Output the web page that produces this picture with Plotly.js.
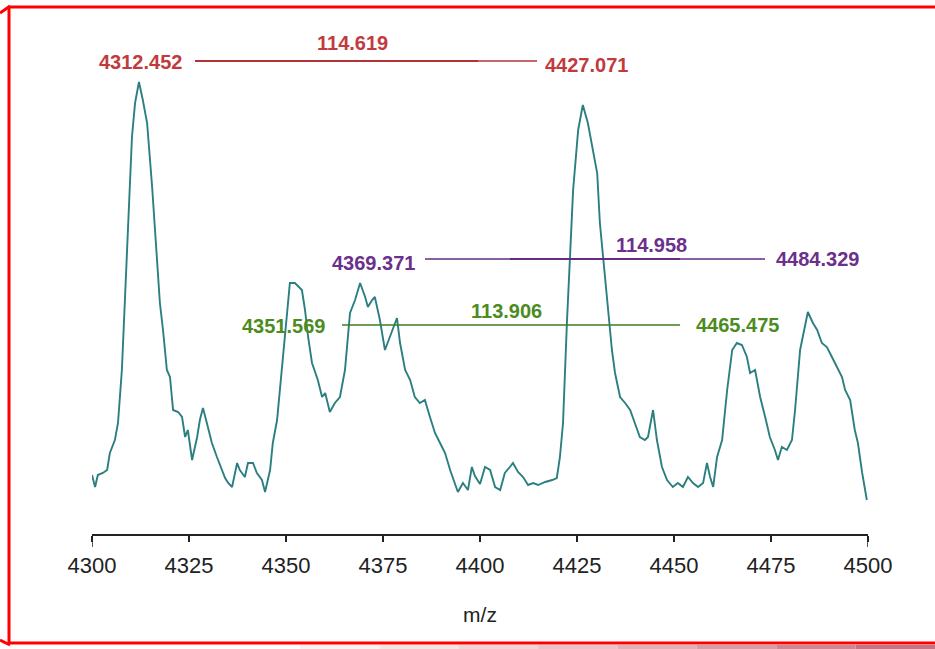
<!DOCTYPE html>
<html>
<head>
<meta charset="utf-8">
<script src="https://cdn.plot.ly/plotly-3.0.1.min.js"></script>
<style>html,body{margin:0;padding:0;background:#fff;}#chart{width:935px;height:649px;}</style>
</head>
<body>
<div id="chart"></div>
<script>
// Spectrum (m/z vs relative intensity)
const mz = [4300.0,4300.8,4301.5,4302.8,4303.9,4304.6,4305.9,4306.7,4307.7,4308.5,4309.3,4310.3,4311.1,4312.1,4313.1,4314.2,4315.5,4316.8,4317.5,4318.3,4319.3,4320.1,4320.9,4322.2,4323.2,4324.0,4324.7,4325.8,4327.1,4327.8,4328.6,4329.6,4330.9,4332.2,4333.5,4334.3,4335.1,4336.1,4337.4,4338.1,4339.4,4340.2,4341.5,4342.5,4343.8,4344.6,4345.9,4346.6,4347.7,4348.5,4349.2,4350.3,4351.0,4352.3,4354.1,4354.9,4355.7,4356.7,4357.5,4358.2,4359.3,4360.1,4361.3,4362.6,4363.9,4365.2,4366.5,4367.8,4369.1,4370.4,4371.1,4372.2,4372.9,4374.2,4375.5,4376.8,4378.6,4379.4,4380.7,4382.0,4383.2,4384.5,4385.8,4387.1,4388.4,4389.7,4391.0,4392.3,4393.6,4394.3,4395.6,4396.9,4397.9,4398.7,4400.0,4401.3,4402.6,4403.9,4405.2,4406.4,4407.7,4408.5,4409.8,4411.1,4412.4,4413.7,4415.0,4416.8,4418.6,4419.8,4420.6,4421.4,4422.4,4423.2,4424.0,4425.3,4426.5,4427.8,4429.1,4430.2,4430.9,4431.7,4432.7,4434.0,4434.8,4436.1,4437.4,4438.7,4439.9,4441.2,4442.5,4443.3,4444.6,4445.6,4446.9,4448.2,4449.7,4451.0,4452.3,4453.6,4454.9,4456.2,4457.5,4458.5,4459.3,4460.1,4461.1,4462.4,4463.7,4465.0,4466.2,4467.5,4468.8,4469.6,4470.9,4472.2,4473.5,4474.7,4476.0,4476.8,4477.8,4479.1,4480.4,4481.2,4482.5,4483.8,4484.5,4485.8,4486.9,4488.1,4489.4,4490.7,4492.0,4493.3,4494.1,4495.4,4496.6,4497.4,4498.5,4499.7];
const intensity = [59,47,59,61,64,81,94,111,164,231,304,397,431,452,434,411,347,277,231,204,164,157,124,122,117,97,104,74,97,114,126,111,91,77,64,56,51,47,71,64,57,71,71,61,54,42,64,91,114,147,181,224,251,251,244,224,197,171,161,154,137,141,122,131,137,164,221,234,251,237,227,234,237,214,184,197,216,191,164,154,137,131,134,117,101,91,81,64,51,42,51,44,67,58,50,67,64,47,44,61,67,71,62,57,49,51,49,52,54,56,77,111,211,277,344,404,429,411,384,361,311,277,237,184,161,137,131,124,111,97,94,97,124,94,67,54,47,51,47,57,51,47,51,71,57,47,77,94,144,184,191,189,177,161,164,137,117,97,84,74,87,84,94,124,184,211,222,211,204,191,187,177,167,157,144,134,104,91,61,34];

// Tick labels
const tickVals = [4300,4325,4350,4375,4400,4425,4450,4475,4500];
const tickText = ["4300","4325","4350","4375","4400","4425","4450","4475","4500"];

// Mass-difference annotations
const pairLabels = ["4312.452","4427.071","4369.371","4484.329","4351.569","4465.475"];
const diffLabels = ["114.619","114.958","113.906"];
const pairColors = ["#c23a3d","#6b2f8c","#4c8c1f"];
const lineColors = ["#b43235","#652a82","#3f7d22"];

// layout geometry (pixels) helpers
const L=92, R=868, T=10, B=534;
const px2x = p => 4300 + (p - L) * 200 / (R - L);
const py2y = p => (B - p);
const px2paper = p => (p - L) / (R - L);
const py2paper = p => (B - p) / (B - T);

const annFont = c => ({family:"Liberation Sans, Arial, sans-serif", size:20, color:c, weight:"bold"});
function ann(text, px, py, c){
  return {text:"<b>"+text+"</b>", x:px2x(px), y:py2y(py), xref:"x", yref:"y", showarrow:false,
          font:annFont(c), xanchor:"center", yanchor:"middle"};
}
const annotations = [
  ann(pairLabels[0],140,62,pairColors[0]),
  ann(diffLabels[0],352,43,pairColors[0]),
  ann(pairLabels[1],586,65,pairColors[0]),
  ann(pairLabels[2],373,263,pairColors[1]),
  ann(diffLabels[1],651,245,pairColors[1]),
  ann(pairLabels[3],817,259,pairColors[1]),
  ann(pairLabels[4],283,326,pairColors[2]),
  ann(diffLabels[2],506,311,pairColors[2]),
  ann(pairLabels[5],737,325,pairColors[2])
];
function hline(x0,x1,py,c,w){
  return {type:"line", xref:"x", yref:"y", x0:px2x(x0), x1:px2x(x1), y0:py2y(py), y1:py2y(py), line:{color:c,width:w}};
}
function pline(x0,y0,x1,y1,c,w){
  return {type:"line", xref:"paper", yref:"paper", x0:px2paper(x0), x1:px2paper(x1), y0:py2paper(y0), y1:py2paper(y1), line:{color:c,width:w}};
}
const shapes = [
  hline(195,537,61,lineColors[0],1.3),
  hline(195,478,61,lineColors[0],2),
  hline(425,765,259,lineColors[1],1.3),
  hline(510,680,259,lineColors[1],2),
  hline(342,680,325,lineColors[2],1.6),
  // long end ticks
  {type:"line", xref:"x", yref:"paper", x0:4300, x1:4300, y0:0, y1:py2paper(547), line:{color:"#222",width:1.5}},
  {type:"line", xref:"x", yref:"paper", x0:4500, x1:4500, y0:0, y1:py2paper(547), line:{color:"#222",width:1.5}},
  // red frame
  pline(9,7,935,7,"#ff0000",3),
  pline(9,7,9,643,"#ff0000",3),
  pline(9,643,935,643,"#ff0000",3),
  pline(0,13,10,6,"#ff0000",3),
  pline(0,640,10,645,"#ff0000",3)
];
// bottom gradient strip
const gradCols = ["#fbf1f2","#f6e4e6","#f0d4d8","#e8c4ca","#dfb2ba","#d69ea8","#cc8894","#c47482"];
for(let i=0;i<gradCols.length;i++){
  const a = 300 + i*(935-300)/gradCols.length, b = 300 + (i+1)*(935-300)/gradCols.length;
  shapes.push({type:"rect", xref:"paper", yref:"paper", x0:px2paper(a), x1:px2paper(b), y0:py2paper(645), y1:py2paper(650), line:{width:0}, fillcolor:gradCols[i]});
}

const trace = {x:mz, y:intensity, type:"scatter", mode:"lines", line:{color:"#2b7f80", width:1.9}, hoverinfo:"skip"};

const layout = {
  width:935, height:649,
  margin:{l:L, r:935-R, t:T, b:649-B},
  paper_bgcolor:"#ffffff", plot_bgcolor:"#ffffff",
  showlegend:false,
  xaxis:{range:[4300,4500], tickvals:tickVals, ticktext:tickText, ticks:"outside", ticklen:6, tickwidth:1.5, tickcolor:"#222",
         showline:true, linecolor:"#222", linewidth:1.5, showgrid:false, zeroline:false, ticklabelstandoff:5,
         tickfont:{family:"Liberation Sans, Arial, sans-serif", size:22, color:"#222"},
         title:{text:"m/z", font:{family:"Liberation Sans, Arial, sans-serif", size:21, color:"#222"}, standoff:30}},
  yaxis:{range:[0,B-T], visible:false, showgrid:false, zeroline:false},
  annotations:annotations,
  shapes:shapes
};
Plotly.newPlot("chart",[trace],layout,{displayModeBar:false, staticPlot:true});
</script>
</body>
</html>
